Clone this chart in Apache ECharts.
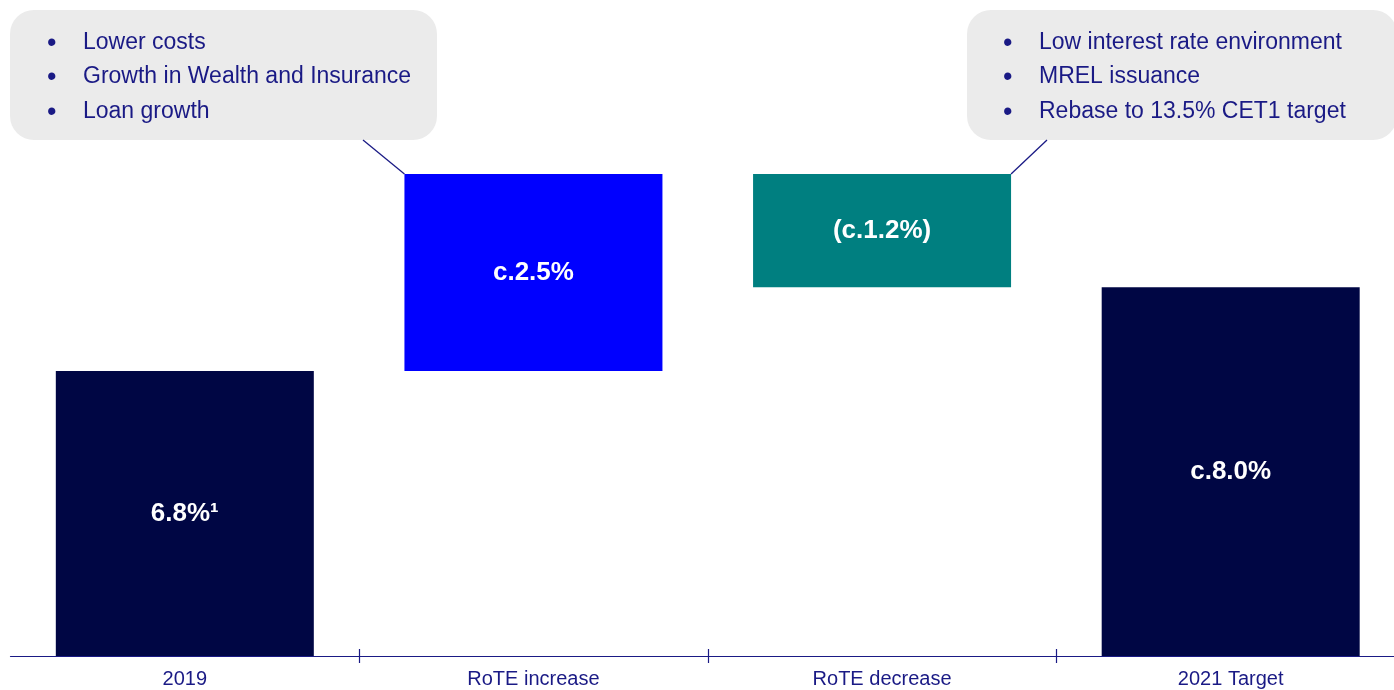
<!DOCTYPE html>
<html>
<head>
<meta charset="utf-8">
<style>
  html, body { margin: 0; padding: 0; background: #ffffff; overflow: hidden; }
  #chart { width: 1405px; height: 690px; }
</style>
<script src="https://cdn.jsdelivr.net/npm/echarts@6/dist/echarts.min.js"></script>
</head>
<body>
<div id="chart"></div>
<script>
// ---- data ----
const categories = ['2019', 'RoTE increase', 'RoTE decrease', '2021 Target'];
// drawn extents of each block (illustrative scale, as in the picture)
const barBase = [0, 6.8, 8.8, 0];
const barSize = [6.8, 4.7, 2.7, 8.8];
const barLabels = ['6.8%\u00B9', 'c.2.5%', '(c.1.2%)', 'c.8.0%'];
const barColors = ['#000644', '#0000ff', '#007f80', '#000644'];
const leftNotes = ['Lower costs', 'Growth in Wealth and Insurance', 'Loan growth'];
const rightNotes = ['Low interest rate environment', 'MREL issuance', 'Rebase to 13.5% CET1 target'];

const navy = '#1a1a85';
const font = '"Liberation Sans", Arial, Helvetica, sans-serif';

const chart = echarts.init(document.getElementById('chart'));

const option = {
  animation: false,
  backgroundColor: '#ffffff',
  grid: { left: 10.5, right: 0, top: 27.4, bottom: 34, containLabel: false },
  xAxis: [
    {
      type: 'category',
      data: categories,
      position: 'bottom',
      axisLine: { lineStyle: { color: navy, width: 1.2 } },
      axisTick: { show: true, length: 7, lineStyle: { color: navy, width: 1.2 },
                  interval: function (i) { return i > 0; } },
      axisLabel: { color: navy, fontSize: 20, fontFamily: font, margin: 13 },
      splitLine: { show: false }
    },
    {
      type: 'category',
      data: categories,
      position: 'bottom',
      axisLine: { show: false },
      axisTick: { show: true, inside: true, length: 7, lineStyle: { color: navy, width: 1.2 },
                  interval: function (i) { return i > 0; } },
      axisLabel: { show: false },
      splitLine: { show: false }
    }
  ],
  yAxis: {
    type: 'value', min: 0, max: 15, show: false, splitLine: { show: false }
  },
  series: [
    {
      type: 'bar', stack: 'w', data: barBase, barWidth: 258, silent: true,
      itemStyle: { color: 'rgba(0,0,0,0)' }
    },
    {
      type: 'bar', stack: 'w', barWidth: 258,
      data: barSize.map(function (v, i) { return { value: v, itemStyle: { color: barColors[i] } }; }),
      label: {
        show: true, position: 'inside', color: '#ffffff', fontSize: 26, fontWeight: 'bold',
        fontFamily: font,
        formatter: function (p) { return barLabels[p.dataIndex]; }
      }
    }
  ]
};
chart.setOption(option);

// ---- callouts ----
function corner(catIdx, value, side) {
  const p = chart.convertToPixel({ xAxisIndex: 0, yAxisIndex: 0 }, [catIdx, value]);
  return [p[0] + side * 129, p[1]];
}
const incTopLeft = corner(1, barBase[1] + barSize[1], -1);
const decTopRight = corner(2, barBase[2] + barSize[2], 1);

function noteBlock(x, items) {
  return [
    { type: 'text', left: x, top: 26, silent: true,
      style: { text: items.map(function () { return '\u2022'; }).join('\n'), fill: navy,
               font: '27px ' + font, lineHeight: 34.5 } },
    { type: 'text', left: x + 36, top: 25, silent: true,
      style: { text: items.join('\n'), fill: navy, font: '23px ' + font, lineHeight: 34.5 } }
  ];
}

chart.setOption({
  graphic: [
    { type: 'rect', shape: { x: 10, y: 10, width: 427, height: 130, r: 24 },
      style: { fill: '#ebebeb' }, silent: true },
    { type: 'rect', shape: { x: 967, y: 10, width: 430, height: 130, r: 24 },
      style: { fill: '#ebebeb' }, silent: true },
    { type: 'line', shape: { x1: 363, y1: 140, x2: incTopLeft[0], y2: incTopLeft[1] },
      style: { stroke: navy, lineWidth: 1.3 }, silent: true },
    { type: 'line', shape: { x1: 1047, y1: 140, x2: decTopRight[0], y2: decTopRight[1] },
      style: { stroke: navy, lineWidth: 1.3 }, silent: true }
  ].concat(noteBlock(47, leftNotes)).concat(noteBlock(1003, rightNotes))
});
</script>
</body>
</html>
